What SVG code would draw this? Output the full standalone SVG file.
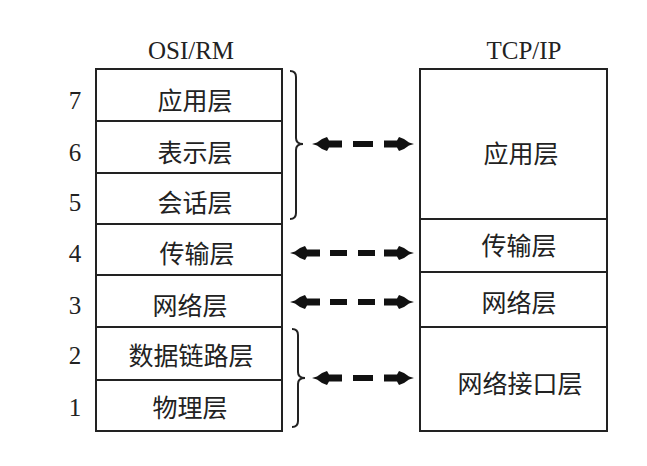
<svg xmlns="http://www.w3.org/2000/svg" width="647" height="466" viewBox="0 0 647 466">
<style>
.box{fill:#fff;stroke:#222;stroke-width:2}
.div{stroke:#222;stroke-width:2}
.brace{fill:none;stroke:#222;stroke-width:2}
.dash{stroke:#111;stroke-width:6}
.head{fill:#111}
.cn{font-family:"Noto Sans CJK SC","Noto Sans",sans-serif;font-size:25px;fill:#222;text-anchor:middle;dominant-baseline:central}
.num{font-family:"Liberation Serif",serif;font-size:25px;fill:#222;text-anchor:middle;dominant-baseline:central}
.title{font-family:"Liberation Serif",serif;font-size:25px;fill:#222;text-anchor:middle}
</style>
<defs>
<path id="ah" d="M0,0 L5,-1.5 L10,-5 L15,-7 L17,-3.5 L30,-3.5 L30,3.5 L17,3.5 L15,7 L10,5 L5,1.5 Z"/>
</defs>
<rect width="647" height="466" fill="#fff"/>
<text class="title" x="191" y="59">OSI/RM</text>
<text class="title" x="524" y="59">TCP/IP</text>
<g id="osi">
<rect class="box" x="96" y="69" width="186" height="362"/>
<line class="div" x1="96" y1="121" x2="282" y2="121"/>
<line class="div" x1="96" y1="173" x2="282" y2="173"/>
<line class="div" x1="96" y1="224" x2="282" y2="224"/>
<line class="div" x1="96" y1="275" x2="282" y2="275"/>
<line class="div" x1="96" y1="327" x2="282" y2="327"/>
<line class="div" x1="96" y1="380" x2="282" y2="380"/>
</g>
<g id="osi-7"><text class="num" x="75" y="100">7</text><text class="cn" x="195" y="99">应用层</text></g>
<g id="osi-6"><text class="num" x="75" y="152">6</text><text class="cn" x="195" y="151">表示层</text></g>
<g id="osi-5"><text class="num" x="75" y="202">5</text><text class="cn" x="195" y="201">会话层</text></g>
<g id="osi-4"><text class="num" x="75" y="253">4</text><text class="cn" x="197" y="252">传输层</text></g>
<g id="osi-3"><text class="num" x="75" y="305">3</text><text class="cn" x="190" y="304">网络层</text></g>
<g id="osi-2"><text class="num" x="75" y="355">2</text><text class="cn" x="191" y="354">数据链路层</text></g>
<g id="osi-1"><text class="num" x="75" y="407">1</text><text class="cn" x="190" y="406">物理层</text></g>
<g id="tcpip">
<rect class="box" x="420" y="69" width="187" height="362"/>
<line class="div" x1="420" y1="219" x2="607" y2="219"/>
<line class="div" x1="420" y1="272" x2="607" y2="272"/>
<line class="div" x1="420" y1="327" x2="607" y2="327"/>
</g>
<g id="tcp-app"><text class="cn" x="521" y="152">应用层</text></g>
<g id="tcp-trans"><text class="cn" x="519" y="244">传输层</text></g>
<g id="tcp-net"><text class="cn" x="519" y="301">网络层</text></g>
<g id="tcp-link"><text class="cn" x="520" y="382">网络接口层</text></g>
<g id="braces">
<path class="brace" d="M290,71 Q296,71 296,77 L296,138 Q296,144 303,144 Q296,144 296,150 L296,213 Q296,219 290,219"/>
<path class="brace" d="M292,329 Q298,329 298,335 L298,372 Q298,378 305,378 Q298,378 298,384 L298,421 Q298,427 292,427"/>
</g>
<g id="connectors">
<use href="#ah" class="head" transform="translate(312,144)"/>
<line class="dash" x1="353" y1="144" x2="373" y2="144"/>
<use href="#ah" class="head" transform="translate(414,144) scale(-1,1)"/>
<use href="#ah" class="head" transform="translate(290,253)"/>
<line class="dash" x1="330" y1="253" x2="347" y2="253"/>
<line class="dash" x1="358" y1="253" x2="375" y2="253"/>
<use href="#ah" class="head" transform="translate(414,253) scale(-1,1)"/>
<use href="#ah" class="head" transform="translate(290,302)"/>
<line class="dash" x1="330" y1="302" x2="347" y2="302"/>
<line class="dash" x1="358" y1="302" x2="375" y2="302"/>
<use href="#ah" class="head" transform="translate(414,302) scale(-1,1)"/>
<use href="#ah" class="head" transform="translate(312,378)"/>
<line class="dash" x1="353" y1="378" x2="373" y2="378"/>
<use href="#ah" class="head" transform="translate(414,378) scale(-1,1)"/>
</g>
</svg>
